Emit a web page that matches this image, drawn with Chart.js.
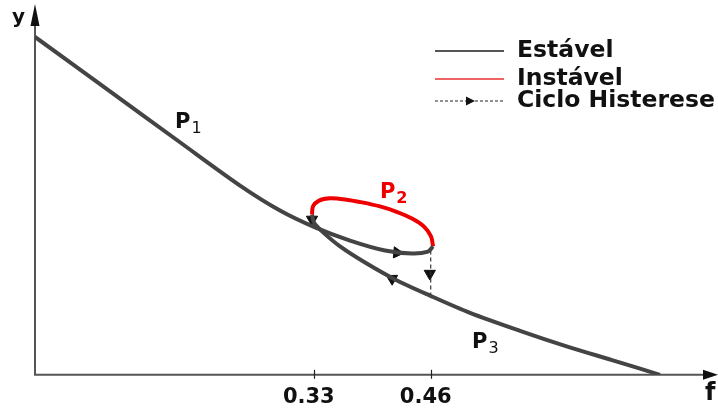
<!DOCTYPE html>
<html>
<head>
<meta charset="utf-8">
<script src="https://cdn.jsdelivr.net/npm/chart.js@4"></script>
<style>
  body { margin: 0; background: #fff; }
  #chart { display: block; }
</style>
</head>
<body>
<canvas id="chart" width="718" height="412"></canvas>
<script>
// Branch P1 (stable, upper) - f and y
const p1F = [0.020, 0.1034, 0.1812, 0.248, 0.2924, 0.3314, 0.3703, 0.4092, 0.4392, 0.457, 0.4626];
const p1Y = [0.921, 0.773, 0.634, 0.516, 0.448, 0.402, 0.366, 0.339, 0.331, 0.336, 0.350];

// Branch P2 (unstable)
const p2F = [0.4626, 0.4604, 0.4526, 0.4392, 0.4214, 0.4036, 0.3836, 0.3647, 0.3480, 0.3358, 0.3291, 0.3280];
const p2Y = [0.350, 0.377, 0.404, 0.426, 0.445, 0.459, 0.470, 0.478, 0.481, 0.475, 0.459, 0.437];

// Branch P3 (stable, lower)
const p3F = [0.328, 0.3302, 0.3391, 0.3592, 0.387, 0.4203, 0.4592, 0.5037, 0.5593, 0.6094, 0.6616, 0.715];
const p3Y = [0.437, 0.415, 0.391, 0.350, 0.306, 0.260, 0.216, 0.169, 0.120, 0.079, 0.040, 0.000];

// Hysteresis jump at f = 0.46
const jumpF = [0.46, 0.46];
const jumpY = [0.339, 0.216];

// Direction arrows along the cycle
const arrowF = [0.4226, 0.328, 0.417, 0.459];
const arrowY = [0.333, 0.4235, 0.262, 0.276];
const arrowAngle = [95, 180, -61, 180];

const fTicks = [0.33, 0.46];
const legendLabels = ['Estável', 'Instável', 'Ciclo Histerese'];
const branchNames = ['P', 'P', 'P'];
const branchSubs = ['1', '2', '3'];
const branchLabelF = [0.1757, 0.4036, 0.506];
const branchLabelY = [0.672, 0.483, 0.074];

const GRAY = '#444444';
const RED = '#ee0000';
const FONT = '"DejaVu Sans", sans-serif';

const zip = (fs, ys) => fs.map((f, i) => ({ x: f, y: ys[i] }));

function curve(label, fs, ys, color) {
    return {
        label: label,
        data: zip(fs, ys),
        showLine: true,
        borderColor: color,
        borderWidth: 4,
        tension: 0.3,
        pointRadius: 0,
        fill: false
    };
}

const decorPlugin = {
    id: 'decor',
    beforeDatasetsDraw(chart) {
        const { ctx, chartArea, scales } = chart;
        const x0 = chartArea.left, y0 = chartArea.bottom;
        ctx.save();
        // axes
        ctx.strokeStyle = '#555';
        ctx.lineWidth = 2;
        ctx.beginPath();
        ctx.moveTo(x0, y0 + 1);
        ctx.lineTo(x0, 20);
        ctx.moveTo(x0, y0);
        ctx.lineTo(706, y0);
        ctx.stroke();
        ctx.fillStyle = '#111';
        ctx.beginPath();
        ctx.moveTo(x0, 4);
        ctx.lineTo(x0 - 4.5, 26);
        ctx.lineTo(x0 + 4.5, 26);
        ctx.closePath();
        ctx.fill();
        ctx.beginPath();
        ctx.moveTo(718, y0);
        ctx.lineTo(703, y0 - 5);
        ctx.lineTo(703, y0 + 5);
        ctx.closePath();
        ctx.fill();
        // tick crosses
        ctx.strokeStyle = '#222';
        ctx.lineWidth = 1.2;
        fTicks.forEach(v => {
            const px = Math.round(scales.x.getPixelForValue(v)) + 0.5;
            ctx.beginPath();
            ctx.moveTo(px, y0 - 5);
            ctx.lineTo(px, y0 + 4);
            ctx.stroke();
        });
        // axis names
        ctx.fillStyle = '#111';
        ctx.textBaseline = 'alphabetic';
        ctx.font = 'bold 20px ' + FONT;
        ctx.fillText('y', 12, 23);
        ctx.font = 'bold 24px ' + FONT;
        ctx.fillText('f', 705, 400);
        ctx.restore();
    },
    afterDraw(chart) {
        const { ctx, scales } = chart;
        ctx.save();
        // branch labels
        branchNames.forEach((name, i) => {
            const px = scales.x.getPixelForValue(branchLabelF[i]);
            const py = scales.y.getPixelForValue(branchLabelY[i]);
            ctx.fillStyle = i === 1 ? RED : '#111';
            ctx.textBaseline = 'alphabetic';
            ctx.font = 'bold 21px ' + FONT;
            ctx.fillText(name, px, py);
            const w = ctx.measureText(name).width;
            ctx.font = (i === 1 ? 'bold ' : '') + '16px ' + FONT;
            ctx.fillText(branchSubs[i], px + w + 1, py + 5);
        });

        // legend
        const rows = [51, 79, 101];
        const styles = [
            { color: '#555', width: 2, dash: [] },
            { color: '#e83030', width: 1.5, dash: [] },
            { color: '#222', width: 1, dash: [3, 2] }
        ];
        legendLabels.forEach((label, i) => {
            const s = styles[i];
            ctx.strokeStyle = s.color;
            ctx.lineWidth = s.width;
            ctx.setLineDash(s.dash);
            ctx.beginPath();
            ctx.moveTo(435, rows[i]);
            ctx.lineTo(504, rows[i]);
            ctx.stroke();
            ctx.setLineDash([]);
            if (i === 2) {
                ctx.fillStyle = '#111';
                ctx.beginPath();
                ctx.moveTo(475, rows[i]);
                ctx.lineTo(466, rows[i] - 4.5);
                ctx.lineTo(466, rows[i] + 4.5);
                ctx.closePath();
                ctx.fill();
            }
            ctx.fillStyle = '#111';
            ctx.font = 'bold 23.5px ' + FONT;
            ctx.textBaseline = 'alphabetic';
            ctx.fillText(label, 517, rows[i] + 6);
        });
        ctx.restore();
    }
};

new Chart(document.getElementById('chart'), {
    type: 'scatter',
    data: {
        datasets: [
            curve('P1', p1F, p1Y, GRAY),
            curve('P2', p2F, p2Y, RED),
            curve('P3', p3F, p3Y, GRAY),
            {
                label: 'jump',
                data: zip(jumpF, jumpY),
                showLine: true,
                borderColor: '#333',
                borderWidth: 1.2,
                borderDash: [4, 3],
                pointRadius: 0
            },
            {
                label: 'arrows',
                data: zip(arrowF, arrowY),
                showLine: false,
                pointStyle: 'triangle',
                pointRadius: 6.5,
                pointRotation: arrowAngle,
                backgroundColor: '#111',
                borderColor: '#111',
                borderWidth: 1
            }
        ]
    },
    options: {
        responsive: false,
        animation: false,
        devicePixelRatio: 1,
        layout: { padding: { left: 35, right: 13, top: 8, bottom: -8 } },
        plugins: {
            legend: { display: false },
            tooltip: { enabled: false }
        },
        scales: {
            x: {
                type: 'linear',
                min: 0.02,
                max: 0.765,
                afterBuildTicks: scale => {
                    scale.ticks = fTicks.map(v => ({ value: v }));
                },
                grid: { display: false, drawTicks: false },
                border: { display: false },
                ticks: {
                    padding: 10,
                    labelOffset: -5,
                    color: '#111',
                    font: { family: 'DejaVu Sans', weight: 'bold', size: 21 },
                    callback: v => v.toFixed(2)
                }
            },
            y: {
                type: 'linear',
                min: 0,
                max: 1,
                display: false
            }
        }
    },
    plugins: [decorPlugin]
});
</script>
</body>
</html>
